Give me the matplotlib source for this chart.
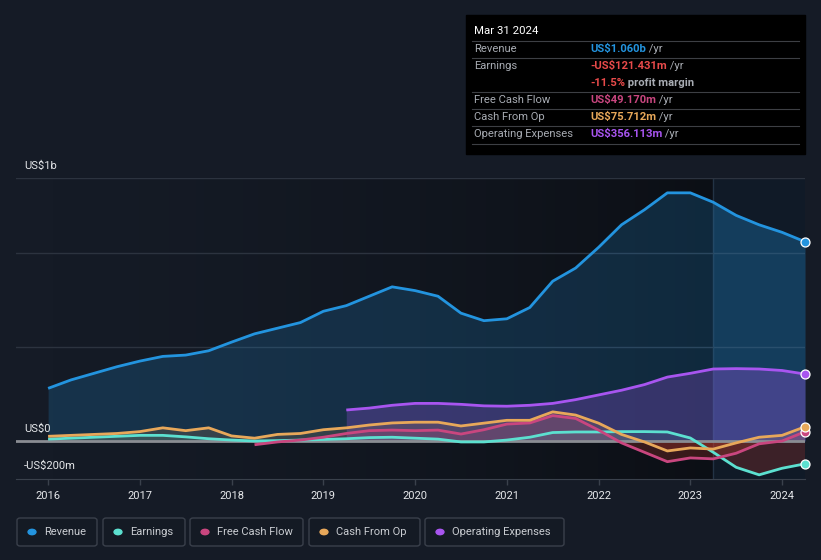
import numpy as np
import matplotlib
matplotlib.use("Agg")
import matplotlib.pyplot as plt
from matplotlib.patches import Rectangle, FancyBboxPatch, Circle

# --- palette ---
BG = "#151b26"
REV = "#2394df"
EARN = "#5ce0d0"
FCF = "#c9467f"
CFO = "#e8a85a"
OPEX = "#a855f0"
NEG = "#e84a4a"
GRID = "#2c333f"
MUTED = "#a8acb3"
TXT = "#e6e8eb"

W, H = 821, 560

# --- data (US$ billions, trailing twelve months, quarterly) ---
rev_x = [2016.0, 2016.25, 2016.5, 2016.75, 2017.0, 2017.25, 2017.5, 2017.75,
         2018.0, 2018.25, 2018.5, 2018.75, 2019.0, 2019.25, 2019.5, 2019.75,
         2020.0, 2020.25, 2020.5, 2020.75, 2021.0, 2021.25, 2021.5, 2021.75,
         2022.0, 2022.25, 2022.5, 2022.75, 2023.0, 2023.25, 2023.5, 2023.75,
         2024.0, 2024.25]
revenue = [0.28, 0.325, 0.36, 0.395, 0.425, 0.45, 0.457, 0.48,
           0.526, 0.57, 0.60, 0.63, 0.69, 0.72, 0.77, 0.82,
           0.80, 0.77, 0.68, 0.64, 0.65, 0.71, 0.85, 0.92,
           1.03, 1.15, 1.23, 1.32, 1.32, 1.27, 1.20, 1.15,
           1.11, 1.060]
earnings = [0.01, 0.015, 0.02, 0.025, 0.03, 0.03, 0.022, 0.012,
            0.005, 0.0, 0.002, 0.005, 0.008, 0.012, 0.018, 0.02,
            0.015, 0.01, -0.005, -0.005, 0.005, 0.02, 0.045, 0.048,
            0.048, 0.05, 0.05, 0.048, 0.016, -0.06, -0.14, -0.18,
            -0.145, -0.121431]
cfo = [0.025, 0.03, 0.035, 0.04, 0.05, 0.07, 0.055, 0.07,
       0.027, 0.015, 0.035, 0.04, 0.06, 0.07, 0.085, 0.096,
       0.10, 0.10, 0.08, 0.095, 0.11, 0.11, 0.155, 0.138,
       0.095, 0.035, -0.005, -0.053, -0.037, -0.043, -0.01, 0.02,
       0.03, 0.075712]

fcf_x = rev_x[9:]
fcf = [-0.02, -0.005, 0.005, 0.02, 0.04, 0.055, 0.058, 0.055,
       0.058, 0.037, 0.06, 0.09, 0.096, 0.135, 0.12, 0.058,
       -0.01, -0.06, -0.11, -0.09, -0.095, -0.065, -0.015, 0.0,
       0.04917]

opex_x = rev_x[13:]
opex = [0.165, 0.175, 0.19, 0.20, 0.20, 0.195, 0.187, 0.185,
        0.19, 0.20, 0.22, 0.245, 0.27, 0.30, 0.34, 0.36,
        0.383, 0.385, 0.383, 0.375, 0.356113]

years = list(range(2016, 2025))
past_start = 2023.25


def fx(px):
    return px / W


def fy(py):
    return 1 - py / H


plt.rcParams.update({"font.family": ["Roboto", "DejaVu Sans"], "font.size": 8})
fig = plt.figure(figsize=(W / 100, H / 100), dpi=100, facecolor=BG)
ax = fig.add_axes([fx(16), fy(478.6), fx(805) - fx(16), fy(177.8) - fy(478.6)])
ax.set_facecolor(BG)
ax.set_xlim(2015.65, 2024.25)
ax.set_ylim(-0.2, 1.4)

# darkening gradient toward the last year, then the highlighted past-year band
grad = np.linspace(0, 1, 256) ** 1.6
rgba = np.zeros((1, 256, 4))
rgba[..., 3] = grad * 0.45
ax.imshow(rgba, extent=[2015.65, past_start, -0.2, 1.4], aspect="auto", zorder=0)
ax.axvspan(past_start, 2024.25, color="#0d1a28", alpha=0.6, lw=0, zorder=0)
ax.axvline(past_start, color="#233345", lw=1, zorder=0.5)

for v in (0.5, 1.0, 1.4):
    ax.axhline(v, color=GRID, lw=1, zorder=0.6)


def area(x, y, c, a, boost=0.0):
    x = np.asarray(x)
    y = np.asarray(y)
    ax.fill_between(x, y, 0, where=y >= 0, interpolate=True, color=c, alpha=a, lw=0, zorder=1)
    ax.fill_between(x, y, 0, where=y < 0, interpolate=True, color="#c0392b", alpha=0.25, lw=0, zorder=1)
    if boost:
        m = x >= past_start
        ax.fill_between(x[m], y[m], 0, where=y[m] >= 0, color=c, alpha=boost, lw=0, zorder=1)


area(rev_x, revenue, REV, 0.2, boost=0.12)
area(opex_x, opex, OPEX, 0.25, boost=0.08)
area(rev_x, cfo, CFO, 0.15)
area(fcf_x, fcf, FCF, 0.15)
area(rev_x, earnings, EARN, 0.1)

ax.axhline(0, color="#8a8d93", lw=2, zorder=2)

series = [(rev_x, revenue, REV), (opex_x, opex, OPEX), (rev_x, earnings, EARN),
          (fcf_x, fcf, FCF), (rev_x, cfo, CFO)]
for x, y, c in series:
    ax.plot(x, y, color=c, lw=2.0, solid_joinstyle="round", solid_capstyle="butt", zorder=3)
for x, y, c in series:
    ax.scatter([x[-1]], [y[-1]], s=42, color=c, edgecolor="white", lw=0.9, zorder=4, clip_on=False)

for s in ("top", "right", "left"):
    ax.spines[s].set_visible(False)
ax.spines["bottom"].set_color("#3a414c")
ax.set_yticks([])
ax.set_xticks(years)
ax.set_xticklabels([str(y) for y in years])
ax.tick_params(axis="x", colors="#3a414c", labelcolor=TXT, length=4, width=1, pad=5, labelsize=8)

# y labels
fig.text(fx(24), fy(166), "US$1b", color=TXT, fontsize=8, va="center")
fig.text(fx(24), fy(429), "US$0", color=TXT, fontsize=8, va="center")
fig.text(fx(24), fy(466), "-US$200m", color=TXT, fontsize=8, va="center")

# --- tooltip box ---
fig.patches.append(Rectangle((fx(466), fy(154)), fx(805) - fx(466), fy(15) - fy(154),
                             transform=fig.transFigure, color="black", zorder=5))
fig.text(fx(474), fy(31), "Mar 31 2024", color="white", fontsize=8.2, va="center", zorder=6)
for ly in (41, 58, 92, 109, 126, 144):
    fig.lines.append(plt.Line2D([fx(472), fx(799)], [fy(ly), fy(ly)], transform=fig.transFigure,
                                color="#3d3f44", lw=0.8, zorder=6))

rows = [(49, "Revenue", "US$1.060b", REV, " /yr"),
        (66, "Earnings", "-US$121.431m", NEG, " /yr"),
        (83, "", "-11.5%", NEG, " profit margin"),
        (100, "Free Cash Flow", "US$49.170m", FCF, " /yr"),
        (117, "Cash From Op", "US$75.712m", CFO, " /yr"),
        (134, "Operating Expenses", "US$356.113m", OPEX, " /yr")]
renderer = fig.canvas.get_renderer()
for ry, lab, val, c, tail in rows:
    if lab:
        fig.text(fx(474), fy(ry), lab, color=MUTED, fontsize=8.1, va="center", zorder=6)
    t = fig.text(fx(590), fy(ry), val, color=c, fontsize=8.1, fontweight="bold", va="center", zorder=6)
    bb = t.get_window_extent(renderer)
    fig.text(bb.x1 / fig.bbox.width, fy(ry), tail, color=MUTED, fontsize=8.1,
             fontweight="bold" if tail != " /yr" else "normal", va="center", zorder=6)

# --- legend ---
legend = [(17, 97, "Revenue", REV), (103, 185, "Earnings", EARN),
          (190, 303, "Free Cash Flow", FCF), (309, 420, "Cash From Op", CFO),
          (425, 564, "Operating Expenses", OPEX)]
for x0, x1, lab, c in legend:
    fig.patches.append(FancyBboxPatch((fx(x0), fy(546)), fx(x1) - fx(x0), fy(518) - fy(546),
                                      boxstyle="round,pad=0,rounding_size=0.004",
                                      transform=fig.transFigure, facecolor="#141a24",
                                      edgecolor="#3a404b", lw=1))
    fig.patches.append(Circle((fx(x0 + 15), fy(532)), 0.0048, transform=fig.transFigure,
                              color=c, zorder=3))
    fig.text(fx(x0 + 27), fy(532), lab, color="#c9ccd1", fontsize=8, va="center")

fig.savefig("out.png", dpi=100, facecolor=BG)
